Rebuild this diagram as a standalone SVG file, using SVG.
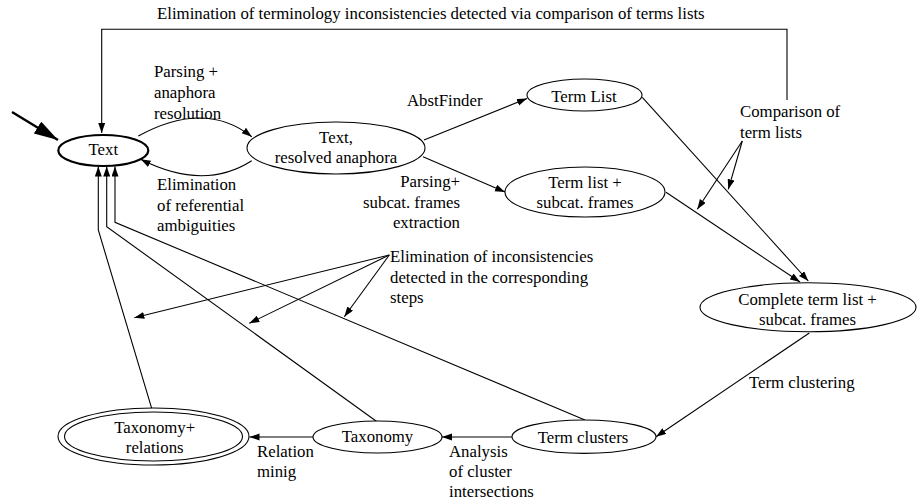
<svg xmlns="http://www.w3.org/2000/svg" width="923" height="502" viewBox="0 0 923 502">
<defs>
<style>
text{font-family:"Liberation Serif","Times New Roman",serif;font-size:16.8px;fill:#000}
.c{text-anchor:middle}
.e{text-anchor:end}
.n{fill:#fff;stroke:#000;stroke-width:1.1}
.ln{fill:none;stroke:#000;stroke-width:1.1}
</style>
<marker id="ah" markerUnits="userSpaceOnUse" markerWidth="11" markerHeight="8" refX="10" refY="3.5" orient="auto">
<path d="M0,0 L10,3.5 L0,7 z" fill="#000"/>
</marker>
<marker id="big" markerUnits="userSpaceOnUse" markerWidth="26" markerHeight="16" refX="24" refY="7" orient="auto">
<path d="M0,0 L24,7 L0,14 z" fill="#000"/>
</marker>
</defs>
<rect width="923" height="502" fill="#fff"/>

<g id="connectors">
<line x1="12" y1="112" x2="58" y2="140" stroke="#000" stroke-width="2.4" marker-end="url(#big)"/>
<polyline class="ln" points="787,100 787,29.3 101.7,29.3 101.7,133" marker-end="url(#ah)"/>
<path class="ln" d="M138.3,136 Q205,99.6 251.7,136.7" marker-end="url(#ah)"/>
<path class="ln" d="M251.7,160.7 Q203.8,191.4 140.7,159.3" marker-end="url(#ah)"/>
<line class="ln" x1="424" y1="140" x2="527" y2="98.5" marker-end="url(#ah)"/>
<line class="ln" x1="423" y1="156.7" x2="505" y2="192" marker-end="url(#ah)"/>
<line class="ln" x1="642.3" y1="97.3" x2="808.3" y2="281" marker-end="url(#ah)"/>
<line class="ln" x1="666" y1="192.3" x2="800" y2="282" marker-end="url(#ah)"/>
<line class="ln" x1="742.3" y1="141" x2="697.3" y2="209.3" marker-end="url(#ah)"/>
<line class="ln" x1="742.3" y1="141" x2="728.3" y2="189.3" marker-end="url(#ah)"/>
<line class="ln" x1="809.3" y1="333" x2="656" y2="436.7" marker-end="url(#ah)"/>
<line class="ln" x1="512" y1="437" x2="442" y2="437" marker-end="url(#ah)"/>
<line class="ln" x1="313" y1="437" x2="249.5" y2="437" marker-end="url(#ah)"/>
<polyline class="ln" points="151.7,408.3 98.3,230 98.3,166.5" marker-end="url(#ah)"/>
<polyline class="ln" points="376.7,421.5 106.7,226.7 106.7,166.5" marker-end="url(#ah)"/>
<polyline class="ln" points="585,420 115,222.3 115,166.5" marker-end="url(#ah)"/>
<line class="ln" x1="389.3" y1="255" x2="134.3" y2="317.7" marker-end="url(#ah)"/>
<line class="ln" x1="389.3" y1="255" x2="249.3" y2="323.3" marker-end="url(#ah)"/>
<line class="ln" x1="389.3" y1="255" x2="344.3" y2="316.7" marker-end="url(#ah)"/>
</g>

<g id="labels">
<text x="157" y="19">Elimination of terminology inconsistencies detected via comparison of terms lists</text>
<text x="154" y="77">Parsing +</text>
<text x="154" y="98">anaphora</text>
<text x="154" y="119">resolution</text>
<text x="157" y="190">Elimination</text>
<text x="157" y="210.5">of referential</text>
<text x="157" y="231">ambiguities</text>
<text x="407" y="106">AbstFinder</text>
<text class="e" x="460" y="187">Parsing+</text>
<text class="e" x="460" y="207.5">subcat. frames</text>
<text class="e" x="460" y="228">extraction</text>
<text x="740" y="117">Comparison of</text>
<text x="740" y="137.5">term lists</text>
<text x="390" y="262">Elimination of inconsistencies</text>
<text x="390" y="282.5">detected in the corresponding</text>
<text x="390" y="303">steps</text>
<text x="749" y="388">Term clustering</text>
<text x="257" y="457">Relation</text>
<text x="257" y="477">minig</text>
<text x="449" y="457">Analysis</text>
<text x="449" y="477">of cluster</text>
<text x="449" y="497">intersections</text>
</g>

<g id="node-text">
<ellipse cx="103.3" cy="150.5" rx="45" ry="15.5" fill="#fff" stroke="#000" stroke-width="2.2"/>
<text class="c" x="103.3" y="154.5">Text</text>
</g>
<g id="node-resolved">
<ellipse class="n" cx="336" cy="148" rx="89" ry="26"/>
<text class="c" x="336" y="143">Text,</text>
<text class="c" x="336" y="163">resolved anaphora</text>
</g>
<g id="node-termlist">
<ellipse class="n" cx="584.5" cy="95" rx="57.5" ry="16"/>
<text class="c" x="584" y="102">Term List</text>
</g>
<g id="node-termlist-subcat">
<ellipse class="n" cx="585" cy="192" rx="80" ry="25"/>
<text class="c" x="585" y="188.3">Term list +</text>
<text class="c" x="585" y="208.3">subcat. frames</text>
</g>
<g id="node-complete">
<ellipse class="n" cx="808" cy="307.3" rx="108" ry="24.5"/>
<text class="c" x="807.5" y="305">Complete term list +</text>
<text class="c" x="807.5" y="325">subcat. frames</text>
</g>
<g id="node-clusters">
<ellipse class="n" cx="584" cy="436.7" rx="72" ry="16.7"/>
<text class="c" x="583" y="443.3">Term clusters</text>
</g>
<g id="node-taxonomy">
<ellipse class="n" cx="377.5" cy="437" rx="64.5" ry="16"/>
<text class="c" x="377.5" y="442">Taxonomy</text>
</g>
<g id="node-taxonomy-relations">
<ellipse class="n" cx="153.5" cy="436.5" rx="95.5" ry="28.5"/>
<ellipse class="n" cx="153.5" cy="436.5" rx="89" ry="24.5"/>
<text class="c" x="154.7" y="433.3">Taxonomy+</text>
<text class="c" x="154.7" y="453.3">relations</text>
</g>
</svg>
